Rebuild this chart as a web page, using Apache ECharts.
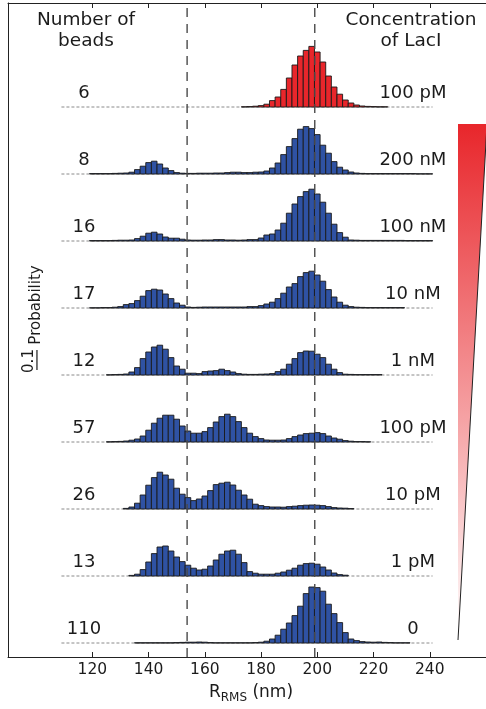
<!DOCTYPE html>
<html>
<head>
<meta charset="utf-8">
<script src="https://cdn.jsdelivr.net/npm/echarts@6/dist/echarts.min.js"></script>
<style>
  html, body { margin: 0; padding: 0; background: #fff; }
  #chart { width: 486px; height: 709px; }
</style>
</head>
<body>
<div id="chart"></div>
<script>
// Histogram bins: 2 nm wide, centred on 110, 112, ... 240 nm
const binFirst = 110;
const binWidth = 2;

// Row annotations, top row first
const beadCounts = ['6', '8', '16', '17', '12', '57', '26', '13', '110'];
const lacIConcentrations = ['100 pM', '200 nM', '100 nM', '10 nM', '1 nM', '100 pM', '10 pM', '1 pM', '0'];

// Axis ticks (nm) and the two reference R_RMS values (nm)
const xTicks = [120, 140, 160, 180, 200, 220, 240];
const referenceRrms = [153.7, 199.1];
const scaleBarProbability = 0.1;

// Probability per bin, one array per row (11 bins per line: 110-130, 132-152, 154-174, 176-196, 198-218, 220-240)
const probRed100pM = [
  0, 0, 0, 0, 0, 0, 0, 0, 0, 0, 0,
  0, 0, 0, 0, 0, 0, 0, 0, 0, 0, 0,
  0, 0, 0, 0, 0, 0, 0, 0, 0, 0, .001,
  .002, .004, .007, .014, .032, .050, .088, .145, .210, .255, .283,
  .303, .275, .225, .155, .100, .064, .035, .020, .010, .005, .003,
  .002, .001, .001, 0, 0, 0, 0, 0, 0, 0, 0
];
const prob200nM = [
  0, 0, 0, 0, 0, .002, .002, .002, .002, .003, .004,
  .005, .009, .022, .039, .057, .064, .050, .030, .017, .007, .004,
  .003, .003, .004, .004, .004, .005, .005, .007, .009, .009, .007,
  .007, .009, .010, .015, .030, .055, .097, .137, .177, .224, .237,
  .227, .197, .144, .104, .062, .034, .020, .010, .005, .003, .002,
  .002, .002, .002, .002, .002, .002, .002, .002, .001, .001, .001
];
const prob100nM = [
  0, 0, 0, 0, 0, .002, .002, .002, .002, .003, .004,
  .004, .005, .012, .024, .039, .044, .035, .020, .014, .014, .009,
  .005, .004, .004, .005, .005, .007, .007, .005, .005, .004, .005,
  .007, .007, .015, .030, .035, .055, .089, .139, .185, .222, .247,
  .259, .235, .194, .139, .084, .042, .019, .005, .004, .003, .003,
  .003, .003, .003, .003, .003, .003, .002, .002, .002, .002, .002
];
const prob10nM = [
  0, 0, 0, 0, 0, .001, .001, .002, .002, .004, .007,
  .017, .022, .037, .059, .087, .094, .090, .070, .047, .025, .014,
  .005, .003, .004, .005, .005, .005, .005, .005, .005, .005, .005,
  .007, .007, .012, .020, .029, .047, .074, .105, .122, .157, .177,
  .184, .165, .134, .092, .055, .029, .014, .007, .004, .003, .002,
  .002, .002, .002, .002, .002, .002, 0, 0, 0, 0, 0
];
const prob1nM = [
  0, 0, 0, 0, 0, 0, 0, 0, .001, .002, .003,
  .005, .015, .037, .082, .115, .140, .149, .129, .087, .045, .029,
  .009, .009, .007, .017, .020, .022, .029, .022, .015, .007, .004,
  .003, .003, .004, .005, .007, .017, .029, .054, .082, .112, .120,
  .119, .104, .087, .054, .029, .012, .004, .003, .002, .002, .002,
  .002, .002, 0, 0, 0, 0, 0, 0, 0, 0, 0
];
const prob100pM = [
  0, 0, 0, 0, 0, 0, 0, 0, .001, .002, .003,
  .005, .009, .015, .030, .059, .094, .119, .134, .134, .114, .080,
  .055, .044, .044, .052, .072, .100, .127, .139, .127, .102, .072,
  .044, .027, .017, .010, .009, .009, .010, .017, .027, .035, .042,
  .044, .047, .042, .030, .020, .014, .007, .004, .002, .002, .001,
  0, 0, 0, 0, 0, 0, 0, 0, 0, 0, 0
];
const prob10pM = [
  0, 0, 0, 0, 0, 0, 0, 0, 0, 0, 0,
  .003, .010, .029, .070, .119, .157, .184, .170, .149, .104, .074,
  .057, .042, .050, .065, .092, .122, .129, .134, .120, .094, .070,
  .049, .024, .017, .012, .010, .010, .009, .012, .014, .017, .019,
  .020, .019, .017, .012, .007, .005, .004, .002, 0, 0, 0,
  0, 0, 0, 0, 0, 0, 0, 0, 0, 0, 0
];
const prob1pM = [
  0, 0, 0, 0, 0, 0, 0, 0, 0, 0, 0,
  0, .003, .009, .032, .070, .112, .145, .150, .125, .095, .072,
  .054, .039, .030, .034, .050, .080, .109, .125, .129, .109, .067,
  .022, .014, .009, .009, .009, .014, .020, .029, .039, .054, .062,
  .064, .059, .045, .030, .015, .007, .004, 0, 0, 0, 0,
  0, 0, 0, 0, 0, 0, 0, 0, 0, 0, 0
];
const probNoLacI = [
  0, 0, 0, 0, 0, 0, 0, 0, 0, 0, 0,
  0, 0, .001, .001, .001, .001, .001, .001, .001, .002, .003,
  .004, .004, .005, .004, .002, .001, .001, .001, .001, .001, .001,
  .001, .002, .004, .009, .020, .039, .069, .100, .137, .184, .247,
  .280, .277, .259, .194, .147, .102, .052, .020, .012, .007, .005,
  .004, .005, .003, .002, .001, .001, .001, 0, 0, 0, 0
];

const rows = [probRed100pM, prob200nM, prob100nM, prob10nM, prob1nM, prob100pM, prob10pM, prob1pM, probNoLacI];

// ---- layout / style ----
const FONT = '"DejaVu Sans", sans-serif';
const TEXT = '#1b1b1b';
const BLUE = '#2f52a3';
const RED = '#e8262b';
const X_MIN = 90, X_MAX = 260;
const Y_MAX = 3.27;            // probability units over the full plot height
const ROW_TOP_BASE = 2.75;     // baseline of the first row
const ROW_GAP = 0.335;         // vertical offset between rows
const rowBase = k => ROW_TOP_BASE - ROW_GAP * k;
const RANGE_LO = 109, RANGE_HI = 241;

const chart = echarts.init(document.getElementById('chart'), null, { renderer: 'canvas' });

const series = [];

// dashed baseline under every histogram
series.push({
  type: 'custom',
  z: 2,
  silent: true,
  data: rows.map((_, k) => [RANGE_LO, k]),
  renderItem: (params, api) => {
    const k = api.value(1);
    const a = api.coord([RANGE_LO, rowBase(k)]);
    const b = api.coord([RANGE_HI, rowBase(k)]);
    return {
      type: 'line',
      shape: { x1: a[0], y1: a[1], x2: b[0], y2: b[1] },
      style: { stroke: '#8a8a8a', lineWidth: 1, lineDash: [3, 2] }
    };
  }
});

// histogram bars
rows.forEach((vals, k) => {
  const fill = k === 0 ? RED : BLUE;
  series.push({
    type: 'custom',
    z: 3,
    silent: true,
    data: vals.map((v, i) => [binFirst + i * binWidth, v]),
    renderItem: (params, api) => {
      const c = api.value(0);
      const v = api.value(1);
      if (!v) return null;
      const base = rowBase(k);
      const p0 = api.coord([c - binWidth / 2, base]);
      const p1 = api.coord([c + binWidth / 2, base + v]);
      return {
        type: 'rect',
        shape: { x: p0[0], y: p1[1], width: p1[0] - p0[0], height: p0[1] - p1[1] },
        style: { fill: fill, stroke: '#1a1a1a', lineWidth: 0.9 }
      };
    }
  });
});

// reference R_RMS lines
series.push({
  type: 'custom',
  z: 4,
  silent: true,
  data: referenceRrms.map(x => [x]),
  renderItem: (params, api) => {
    const x = api.value(0);
    const a = api.coord([x, 0]);
    const b = api.coord([x, Y_MAX]);
    return {
      type: 'line',
      shape: { x1: a[0], y1: a[1], x2: b[0], y2: b[1] },
      style: { stroke: '#4a4a4a', lineWidth: 1.4, lineDash: [9, 7] }
    };
  }
});

// row labels: bead count (left) and LacI concentration (right)
series.push({
  type: 'custom',
  z: 5,
  silent: true,
  data: rows.map((_, k) => [117, k]),
  renderItem: (params, api) => {
    const k = api.value(1);
    const l = api.coord([117, rowBase(k)]);
    const r = api.coord([234, rowBase(k)]);
    const st = (t, p) => ({
      text: t, x: p[0], y: p[1] - 14,
      font: '18px ' + FONT, fill: TEXT,
      align: 'center', verticalAlign: 'middle',
      textAlign: 'center', textVerticalAlign: 'middle'
    });
    return {
      type: 'group',
      children: [
        { type: 'text', style: st(beadCounts[k], l) },
        { type: 'text', style: st(lacIConcentrations[k], r) }
      ]
    };
  }
});

// probability scale bar
series.push({
  type: 'custom',
  z: 5,
  silent: true,
  data: [[100.3, 1.435]],
  renderItem: (params, api) => {
    const a = api.coord([api.value(0), api.value(1)]);
    const b = api.coord([api.value(0), api.value(1) + scaleBarProbability]);
    return {
      type: 'line',
      shape: { x1: a[0], y1: a[1], x2: b[0], y2: b[1] },
      style: { stroke: TEXT, lineWidth: 1.2 }
    };
  }
});

const axisLineStyle = { color: '#222', width: 1 };

chart.setOption({
  animation: false,
  backgroundColor: '#fff',
  grid: { left: 8, right: 0, top: 3, bottom: 52, containLabel: false },
  xAxis: [
    {
      type: 'value', min: X_MIN, max: X_MAX, position: 'bottom',
      axisLine: { show: true, onZero: false, lineStyle: axisLineStyle },
      axisTick: { show: true, inside: true, length: 5, customValues: xTicks, lineStyle: axisLineStyle },
      axisLabel: { show: true, customValues: xTicks, fontSize: 15.5, fontFamily: FONT, color: TEXT, margin: 5 },
      splitLine: { show: false }
    },
    {
      type: 'value', min: X_MIN, max: X_MAX, position: 'top',
      axisLine: { show: true, onZero: false, lineStyle: axisLineStyle },
      axisTick: { show: true, inside: true, length: 5, customValues: xTicks, lineStyle: axisLineStyle },
      axisLabel: { show: false },
      splitLine: { show: false }
    }
  ],
  yAxis: {
    type: 'value', min: 0, max: Y_MAX,
    axisLine: { show: true, onZero: false, lineStyle: axisLineStyle },
    axisTick: { show: false },
    axisLabel: { show: false },
    splitLine: { show: false }
  },
  graphic: [
    {
      type: 'text', x: 86, y: 31,
      style: {
        text: 'Number of\nbeads', font: '18.5px ' + FONT, fill: TEXT, lineHeight: 21,
        align: 'center', verticalAlign: 'middle', textAlign: 'center', textVerticalAlign: 'middle'
      }
    },
    {
      type: 'text', x: 411, y: 31,
      style: {
        text: 'Concentration\nof LacI', font: '18.5px ' + FONT, fill: TEXT, lineHeight: 21,
        align: 'center', verticalAlign: 'middle', textAlign: 'center', textVerticalAlign: 'middle'
      }
    },
    {
      type: 'text', x: 36, y: 305, rotation: Math.PI / 2,
      style: {
        text: 'Probability', font: '15px ' + FONT, fill: TEXT,
        align: 'center', verticalAlign: 'middle', textAlign: 'center', textVerticalAlign: 'middle'
      }
    },
    {
      type: 'text', x: 29, y: 361, rotation: Math.PI / 2,
      style: {
        text: '0.1', font: '15px ' + FONT, fill: TEXT,
        align: 'center', verticalAlign: 'middle', textAlign: 'center', textVerticalAlign: 'middle'
      }
    },
    {
      type: 'text', x: 251, y: 693,
      style: {
        text: '{r|R}{s|RMS}{r| (nm)}',
        align: 'center', verticalAlign: 'middle', textAlign: 'center', textVerticalAlign: 'middle',
        rich: {
          r: { fontSize: 17, fontFamily: FONT, fill: TEXT, color: TEXT, lineHeight: 20 },
          s: { fontSize: 12, fontFamily: FONT, fill: TEXT, color: TEXT, lineHeight: 20, padding: [9, 0, 0, 0] }
        }
      }
    },
    // concentration wedge
    {
      type: 'polygon',
      shape: { points: [[458, 124], [487, 124], [458, 640]] },
      style: {
        fill: {
          type: 'linear', x: 0, y: 0, x2: 0, y2: 1,
          colorStops: [{ offset: 0, color: '#e8262b' }, { offset: 1, color: '#ffffff' }]
        }
      }
    },
    {
      type: 'line',
      shape: { x1: 458, y1: 640, x2: 487, y2: 124 },
      style: { stroke: '#222', lineWidth: 1 }
    }
  ],
  series: series
});
</script>
</body>
</html>
